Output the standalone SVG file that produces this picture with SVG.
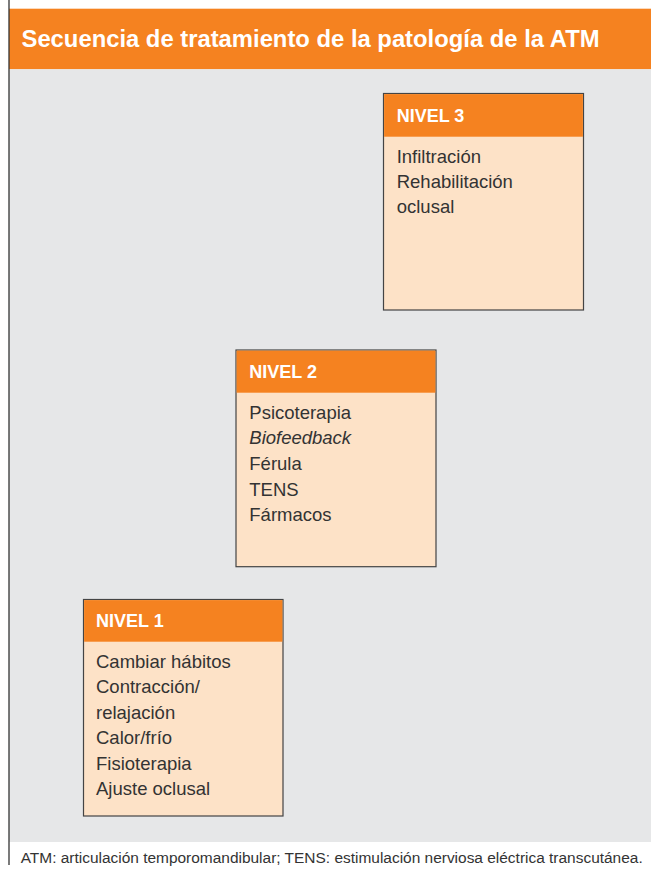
<svg xmlns="http://www.w3.org/2000/svg" width="651" height="869" viewBox="0 0 651 869">
<style>
.box{fill:#FDE2C7;stroke:#444;stroke-width:1.2}
.hdr{fill:#F58220}
.ht{font-family:"Liberation Sans",Arial,sans-serif;font-weight:bold;font-size:18px;fill:#fff}
.bt{font-family:"Liberation Sans",Arial,sans-serif;font-size:18.5px;fill:#333}
</style>
<rect x="0" y="0" width="651" height="869" fill="#fff"/>
<rect x="9" y="8.7" width="642" height="60.6" fill="#F58220"/>
<rect x="9" y="69.3" width="642" height="772.7" fill="#E6E7E8"/>
<line x1="9" y1="0" x2="9" y2="865" stroke="#333" stroke-width="1.3"/>
<text x="21.5" y="46.7" font-family="'Liberation Sans',Arial,sans-serif" font-weight="bold" font-size="24" fill="#fff" textLength="578" lengthAdjust="spacingAndGlyphs">Secuencia de tratamiento de la patología de la ATM</text>
<g id="connectors"></g>
<g id="nivel3">
<rect class="box" x="383.5" y="93.5" width="200" height="216.5"/>
<rect class="hdr" x="384.1" y="94.1" width="198.8" height="42.6"/>
<text class="ht" x="396.7" y="121.7">NIVEL 3</text>
<text class="bt" x="396.7" y="162.7">Infiltración</text>
<text class="bt" x="396.7" y="188.3">Rehabilitación</text>
<text class="bt" x="396.7" y="213">oclusal</text>
</g>
<g id="nivel2">
<rect class="box" x="236" y="350" width="200" height="216.7"/>
<rect class="hdr" x="236.6" y="350.6" width="198.8" height="42.1"/>
<text class="ht" x="249.3" y="377.7">NIVEL 2</text>
<text class="bt" x="249.3" y="419">Psicoterapia</text>
<text class="bt" x="249.3" y="444.3" font-style="italic">Biofeedback</text>
<text class="bt" x="249.3" y="470">Férula</text>
<text class="bt" x="249.3" y="495.7">TENS</text>
<text class="bt" x="249.3" y="521">Fármacos</text>
</g>
<g id="nivel1">
<rect class="box" x="83.5" y="599.5" width="199.5" height="216.5"/>
<rect class="hdr" x="84.1" y="600.1" width="198.3" height="41.6"/>
<text class="ht" x="96" y="626.7">NIVEL 1</text>
<text class="bt" x="96" y="667.7">Cambiar hábitos</text>
<text class="bt" x="96" y="692.7">Contracción/</text>
<text class="bt" x="96" y="718.7">relajación</text>
<text class="bt" x="96" y="744.3">Calor/frío</text>
<text class="bt" x="96" y="770">Fisioterapia</text>
<text class="bt" x="96" y="795">Ajuste oclusal</text>
</g>
<text x="20.7" y="862.5" font-family="'Liberation Sans',Arial,sans-serif" font-size="15.5" fill="#333" textLength="622" lengthAdjust="spacingAndGlyphs">ATM: articulación temporomandibular; TENS: estimulación nerviosa eléctrica transcutánea.</text>
</svg>
